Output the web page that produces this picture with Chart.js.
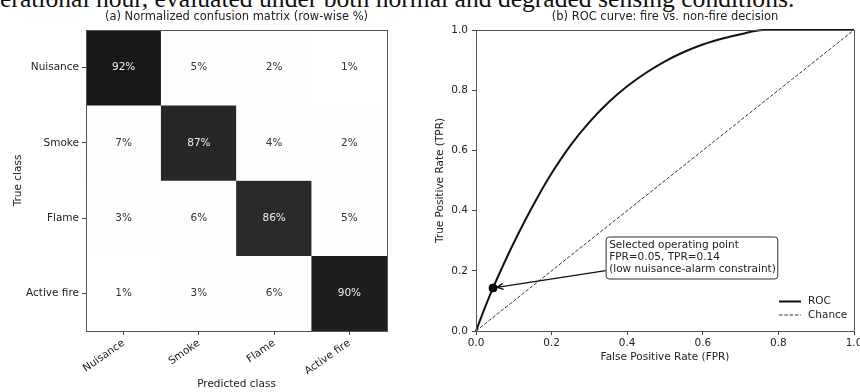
<!DOCTYPE html>
<html>
<head>
<meta charset="utf-8">
<script src="https://cdn.jsdelivr.net/npm/chart.js"></script>
<style>
html, body { margin: 0; padding: 0; background: #fff; overflow: hidden; }
#wrap { position: relative; width: 860px; height: 392px; }
#cap { position: absolute; left: 0; top: -14.5px; font: 25.6px "Liberation Serif", serif; line-height: 25.6px; color: #111; white-space: nowrap; }
canvas { position: absolute; top: 0; }
</style>
</head>
<body>
<div id="wrap">
  <div id="cap">erational hour, evaluated under both normal and degraded sensing conditions.</div>
  <canvas id="cm" width="430" height="392" style="left:0"></canvas>
  <canvas id="roc" width="430" height="392" style="left:430px"></canvas>
</div>
<script>
// confusion matrix, row-wise %
const classes = ['Nuisance', 'Smoke', 'Flame', 'Active fire'];
const nuisanceRow = [92, 5, 2, 1];
const smokeRow = [7, 87, 4, 2];
const flameRow = [3, 6, 86, 5];
const activeFireRow = [1, 3, 6, 90];
const matrixRows = [nuisanceRow, smokeRow, flameRow, activeFireRow];

// ROC curve
const rocFpr = [0, 0.02, 0.045, 0.07, 0.1, 0.13, 0.16, 0.2, 0.25, 0.3, 0.35, 0.4, 0.45, 0.5, 0.55, 0.6, 0.65, 0.7, 0.76, 0.85, 1];
const rocTpr = [0, 0.066, 0.143, 0.213, 0.293, 0.368, 0.438, 0.524, 0.617, 0.694, 0.759, 0.813, 0.858, 0.896, 0.927, 0.952, 0.971, 0.986, 1, 1, 1];
const chanceFpr = [0, 1];
const chanceTpr = [0, 1];
const opFpr = [0.045];
const opTpr = [0.143];
const rateTicks = [0, 0.2, 0.4, 0.6, 0.8, 1.0];
const opNote = ['Selected operating point', 'FPR=0.05, TPR=0.14', '(low nuisance-alarm constraint)'];

Chart.defaults.font.family = '"DejaVu Sans", sans-serif';
Chart.defaults.font.size = 10.5;
Chart.defaults.color = '#222';

const greysStops = [255, 251, 217, 189, 150, 115, 82, 37, 0];
function greys(v) {
    const t = v / 100 * 8;
    const i = Math.min(7, Math.floor(t));
    const g = Math.round(greysStops[i] + (greysStops[i + 1] - greysStops[i]) * (t - i));
    return `rgb(${g},${g},${g})`;
}

function fixWidth(w) {
    return s => { s.width = w; s.paddingTop = 0; s.paddingBottom = 0; };
}
function fixHeight(h) {
    return s => { s.height = h; s.paddingLeft = 0; s.paddingRight = 0; };
}

const tickGrid = { drawOnChartArea: false, drawTicks: true, tickLength: 4, tickColor: '#444', offset: false };

// title + frame around plot area
const framePlugin = {
    id: 'frame',
    afterDraw(chart, args, opts) {
        const { ctx, chartArea: a } = chart;
        ctx.save();
        ctx.strokeStyle = '#555';
        ctx.lineWidth = 1;
        ctx.strokeRect(Math.round(a.left) + 0.5, Math.round(a.top) + 0.5, Math.round(a.right - a.left), Math.round(a.bottom - a.top));
        ctx.fillStyle = '#222';
        ctx.font = '11.5px "DejaVu Sans"';
        ctx.textAlign = 'center';
        ctx.textBaseline = 'middle';
        ctx.fillText(opts.text, (a.left + a.right) / 2, 17.5);
        ctx.restore();
    }
};

const cellText = {
    id: 'cellText',
    afterDatasetsDraw(chart) {
        const { ctx, scales: { x, y } } = chart;
        ctx.save();
        ctx.font = '10.5px "DejaVu Sans"';
        ctx.textAlign = 'center';
        ctx.textBaseline = 'middle';
        matrixRows.forEach((row, r) => {
            row.forEach((v, c) => {
                ctx.fillStyle = v > 50 ? '#eee' : '#333';
                ctx.fillText(v + '%', x.getPixelForValue(c), y.getPixelForValue(r));
            });
        });
        ctx.restore();
    }
};

new Chart(document.getElementById('cm'), {
    type: 'bar',
    data: {
        labels: classes,
        datasets: matrixRows.map((row, r) => ({
            label: classes[r],
            data: row.map(() => [r - 0.5, r + 0.5]),
            backgroundColor: row.map(greys),
            borderWidth: 0,
            barPercentage: 1,
            categoryPercentage: 1,
            grouped: false
        }))
    },
    options: {
        responsive: false,
        animation: false,
        layout: { padding: { top: 30, right: 43, left: 0, bottom: 0 } },
        plugins: {
            legend: { display: false },
            tooltip: { enabled: false },
            frame: { text: '(a) Normalized confusion matrix (row-wise %)' }
        },
        scales: {
            x: {
                type: 'category',
                offset: true,
                grid: tickGrid,
                border: { display: false },
                ticks: { minRotation: 35, maxRotation: 35, padding: 2, color: '#222' },
                title: { display: true, text: 'Predicted class', padding: { top: 0, bottom: 1 }, color: '#222' },
                afterFit: fixHeight(61)
            },
            y: {
                type: 'linear',
                min: -0.5,
                max: 3.5,
                reverse: true,
                grid: tickGrid,
                border: { display: false },
                afterBuildTicks: s => { s.ticks = classes.map((c, i) => ({ value: i })); },
                ticks: { callback: v => classes[v], padding: 3, color: '#222' },
                title: { display: true, text: 'True class', padding: { top: 11.7, bottom: 0 }, color: '#222' },
                afterFit: fixWidth(86)
            }
        }
    },
    plugins: [framePlugin, cellText]
});

// annotation box + arrow, and the legend in the lower right
const opAnnotation = {
    id: 'opAnnotation',
    afterDatasetsDraw(chart) {
        const { ctx, scales: { x, y } } = chart;
        const px = x.getPixelForValue(opFpr[0]);
        const py = y.getPixelForValue(opTpr[0]);
        const bx = x.getPixelForValue(0.343);
        const by = y.getPixelForValue(0.314);
        ctx.save();
        ctx.font = '10.5px "DejaVu Sans"';
        const bw = Math.max(...opNote.map(t => ctx.measureText(t).width)) + 5;
        const bh = 42;
        const cx = bx + bw / 2, cy = by + bh / 2;
        // arrow from the box edge towards the point
        const t = (cx - bx) / (cx - px);
        const sx = bx, sy = cy + t * (py - cy);
        const ang = Math.atan2(py - sy, px - sx);
        const ex = px - Math.cos(ang) * 4, ey = py - Math.sin(ang) * 4;
        ctx.strokeStyle = '#111';
        ctx.lineWidth = 1.3;
        ctx.beginPath();
        ctx.moveTo(sx, sy);
        ctx.lineTo(ex, ey);
        ctx.moveTo(ex - Math.cos(ang - 0.45) * 7, ey - Math.sin(ang - 0.45) * 7);
        ctx.lineTo(ex, ey);
        ctx.lineTo(ex - Math.cos(ang + 0.45) * 7, ey - Math.sin(ang + 0.45) * 7);
        ctx.stroke();
        // box
        ctx.fillStyle = '#fff';
        ctx.strokeStyle = '#333';
        ctx.lineWidth = 1;
        ctx.beginPath();
        ctx.roundRect(bx + 0.5, by + 0.5, bw, bh, 3);
        ctx.fill();
        ctx.stroke();
        ctx.fillStyle = '#222';
        ctx.textBaseline = 'middle';
        opNote.forEach((line, i) => ctx.fillText(line, bx + 3.5, by + 8.5 + i * 12.2));
        ctx.restore();
    },
    afterDraw(chart) {
        const { ctx, chartArea: a } = chart;
        ctx.save();
        ctx.font = '10.5px "DejaVu Sans"';
        ctx.textBaseline = 'middle';
        chart.data.datasets.slice(0, 2).forEach((ds, i) => {
            const yy = a.bottom - 29.5 + i * 13.5;
            ctx.strokeStyle = ds.borderColor;
            ctx.lineWidth = ds.borderWidth;
            ctx.setLineDash(ds.borderDash || []);
            ctx.beginPath();
            ctx.moveTo(a.right - 75, yy);
            ctx.lineTo(a.right - 53, yy);
            ctx.stroke();
            ctx.fillStyle = '#222';
            ctx.fillText(ds.label, a.right - 46, yy);
        });
        ctx.restore();
    }
};

const toPoints = (xs, ys) => xs.map((v, i) => ({ x: v, y: ys[i] }));

new Chart(document.getElementById('roc'), {
    type: 'scatter',
    data: {
        datasets: [{
            label: 'ROC',
            data: toPoints(rocFpr, rocTpr),
            showLine: true,
            borderColor: '#111',
            borderWidth: 2,
            pointRadius: 0,
            cubicInterpolationMode: 'monotone',
            clip: 3
        }, {
            label: 'Chance',
            data: toPoints(chanceFpr, chanceTpr),
            showLine: true,
            borderColor: '#333',
            borderWidth: 1,
            borderDash: [3.5, 1.8],
            pointRadius: 0
        }, {
            label: 'Selected operating point',
            data: toPoints(opFpr, opTpr),
            pointRadius: 4,
            backgroundColor: '#000',
            borderColor: '#000'
        }]
    },
    options: {
        responsive: false,
        animation: false,
        layout: { padding: { top: 30, right: 6, left: 0, bottom: 0 } },
        plugins: {
            legend: { display: false },
            tooltip: { enabled: false },
            frame: { text: '(b) ROC curve: fire vs. non-fire decision' }
        },
        scales: {
            x: {
                type: 'linear',
                min: 0,
                max: 1,
                grid: tickGrid,
                border: { display: false },
                afterBuildTicks: s => { s.ticks = rateTicks.map(v => ({ value: v })); },
                ticks: { callback: v => v.toFixed(1), padding: 2, color: '#222', maxRotation: 0 },
                title: { display: true, text: 'False Positive Rate (FPR)', padding: { top: 0, bottom: 28.7 }, color: '#222' },
                afterFit: fixHeight(61)
            },
            y: {
                type: 'linear',
                min: 0,
                max: 1,
                grid: tickGrid,
                border: { display: false },
                afterBuildTicks: s => { s.ticks = rateTicks.map(v => ({ value: v })); },
                ticks: { callback: v => v.toFixed(1), padding: 4, color: '#222' },
                title: { display: true, text: 'True Positive Rate (TPR)', padding: { top: 4, bottom: 0 }, color: '#222' },
                afterFit: fixWidth(46)
            }
        }
    },
    plugins: [framePlugin, opAnnotation]
});
</script>
</body>
</html>
